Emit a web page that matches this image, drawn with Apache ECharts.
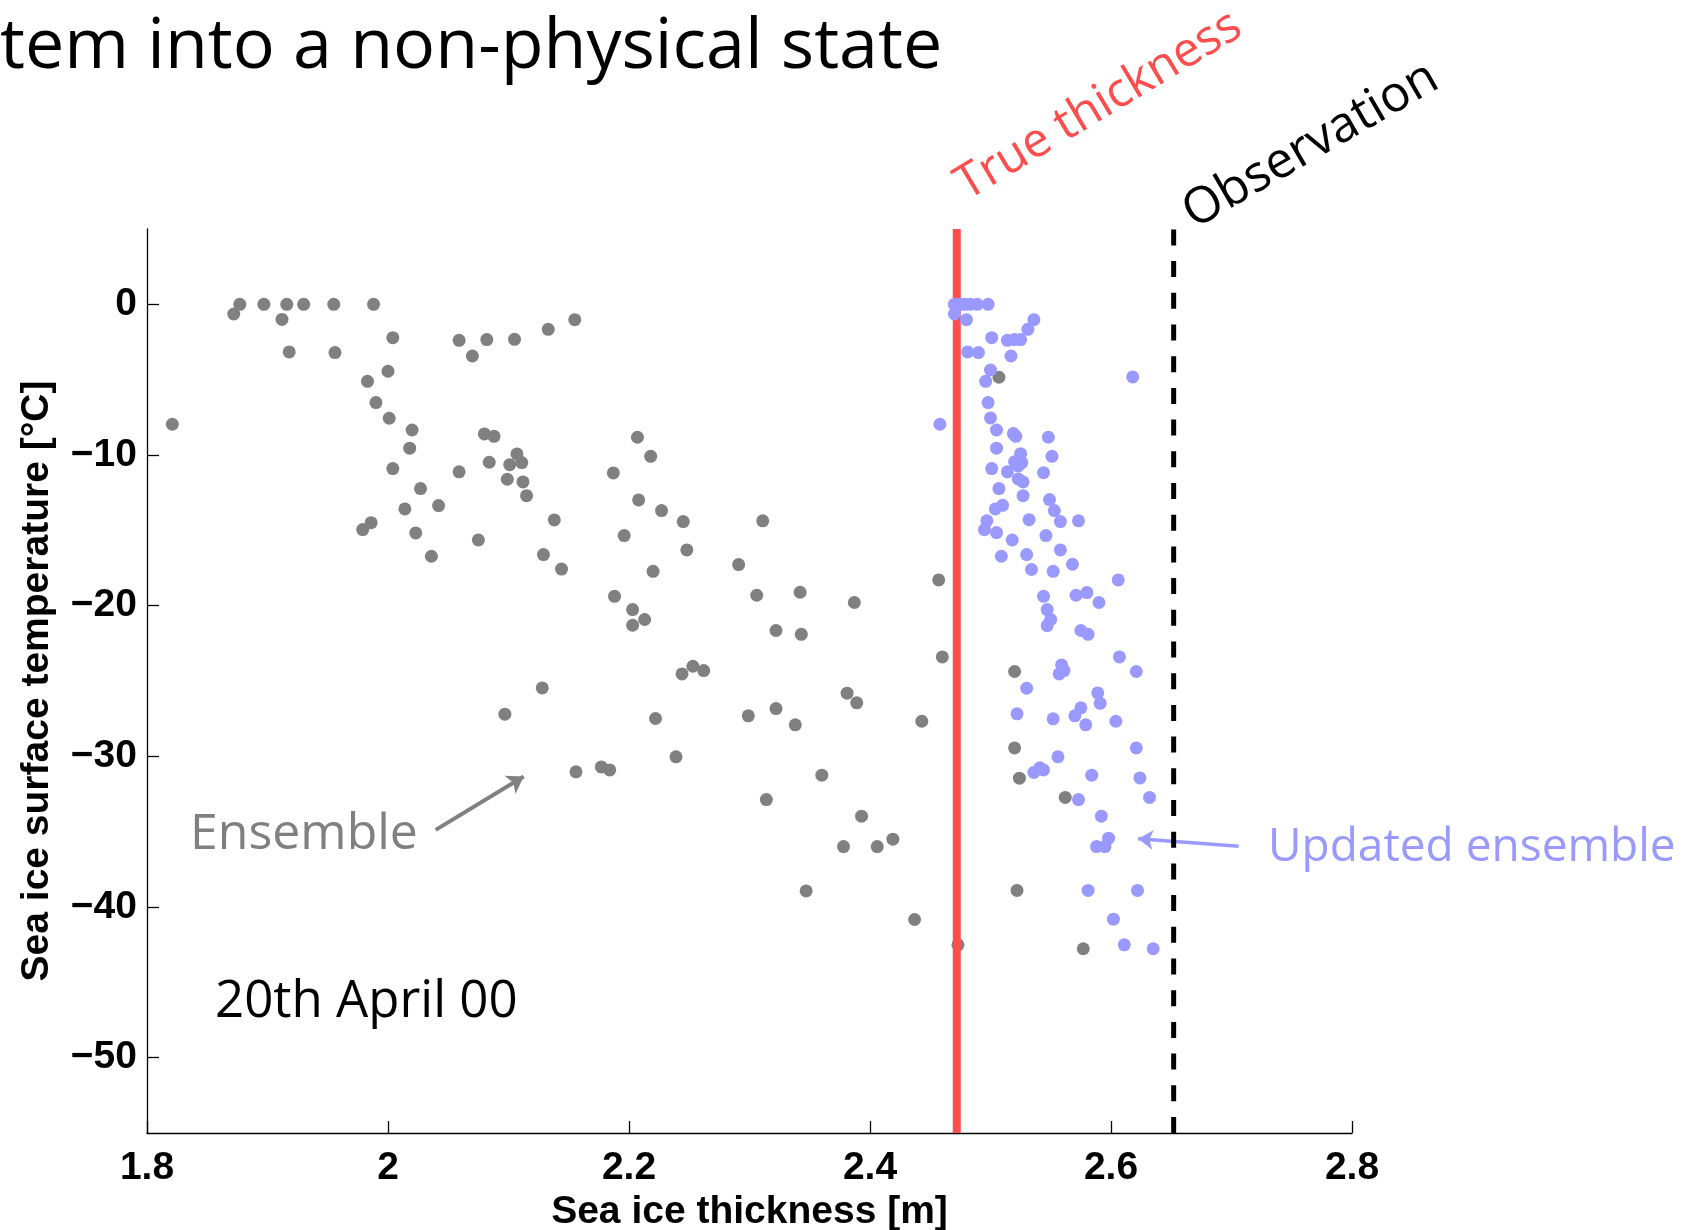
<!DOCTYPE html>
<html>
<head>
<meta charset="utf-8">
<script src="https://cdn.jsdelivr.net/npm/echarts@6/dist/echarts.min.js"></script>
<style>
html,body{margin:0;padding:0;background:#fff;overflow:hidden;}
#chart{width:1685px;height:1230px;}
</style>
</head>
<body>
<div id="chart"></div>
<script>
// ---- data ----
const ensembleX = [1.877,1.872,1.897,1.916,1.912,1.930,1.955,1.988,1.918,1.956,1.821,2.004,2.059,2.082,2.070,2.105,2.133,2.155,2.000,1.983,
  1.990,2.001,2.020,2.018,2.004,2.080,2.088,2.107,2.101,2.111,2.084,2.059,2.099,2.112,2.115,2.027,2.042,2.014,1.986,1.979,
  2.023,2.075,2.036,2.129,2.138,2.144,2.207,2.218,2.187,2.208,2.227,2.245,2.311,2.196,2.248,2.220,2.291,2.457,2.188,2.306,
  2.342,2.387,2.203,2.213,2.203,2.322,2.343,2.460,2.253,2.244,2.262,2.128,2.381,2.389,2.222,2.299,2.322,2.338,2.443,2.239,
  2.156,2.177,2.184,2.360,2.314,2.393,2.378,2.406,2.419,2.347,2.437,2.473,2.097,2.507,2.520,2.520,2.524,2.562,2.522,2.577];
const ensembleY = [0,-0.64,0,0,-1.0,0,0,0,-3.16,-3.2,-7.96,-2.21,-2.39,-2.34,-3.43,-2.32,-1.66,-1.02,-4.44,-5.11,
  -6.52,-7.56,-8.34,-9.55,-10.9,-8.6,-8.76,-9.93,-10.64,-10.5,-10.48,-11.12,-11.61,-11.79,-12.7,-12.23,-13.36,-13.58,-14.49,-14.95,
  -15.17,-15.64,-16.72,-16.61,-14.31,-17.57,-8.82,-10.09,-11.19,-12.98,-13.69,-14.42,-14.37,-15.35,-16.3,-17.72,-17.27,-18.29,-19.38,-19.31,
  -19.11,-19.79,-20.26,-20.92,-21.3,-21.65,-21.9,-23.4,-24.02,-24.53,-24.31,-25.46,-25.81,-26.45,-27.49,-27.31,-26.83,-27.91,-27.67,-30.03,
  -31.03,-30.7,-30.9,-31.25,-32.87,-33.97,-35.99,-35.99,-35.5,-38.93,-40.83,-42.51,-27.2,-4.84,-24.37,-29.44,-31.45,-32.73,-38.9,-42.77];

const updatedX = [2.470,2.475,2.479,2.483,2.489,2.498,2.470,2.480,2.536,2.531,2.501,2.514,2.520,2.525,2.517,2.481,2.490,2.500,2.496,2.618,
  2.458,2.498,2.500,2.505,2.519,2.521,2.548,2.505,2.551,2.525,2.520,2.526,2.523,2.501,2.514,2.544,2.523,2.527,2.507,2.527,
  2.549,2.553,2.558,2.573,2.510,2.504,2.497,2.495,2.505,2.532,2.546,2.518,2.558,2.509,2.530,2.568,2.534,2.552,2.606,2.544,
  2.571,2.580,2.590,2.547,2.550,2.547,2.575,2.581,2.607,2.559,2.561,2.557,2.621,2.530,2.589,2.591,2.575,2.570,2.579,2.522,
  2.552,2.604,2.621,2.556,2.536,2.541,2.544,2.584,2.624,2.573,2.632,2.592,2.598,2.588,2.595,2.581,2.622,2.602,2.611,2.635];
const updatedY = [0,0,0,0,0,0,-0.64,-1.02,-1.02,-1.66,-2.21,-2.39,-2.34,-2.34,-3.43,-3.16,-3.2,-4.36,-5.11,-4.82,
  -7.96,-6.52,-7.54,-8.34,-8.58,-8.76,-8.82,-9.55,-10.09,-9.91,-10.44,-10.5,-10.73,-10.9,-11.12,-11.17,-11.59,-11.79,-12.23,-12.7,
  -12.96,-13.69,-14.42,-14.37,-13.34,-13.58,-14.37,-14.95,-15.15,-14.29,-15.35,-15.64,-16.3,-16.72,-16.61,-17.25,-17.6,-17.72,-18.29,-19.38,
  -19.31,-19.13,-19.79,-20.26,-20.92,-21.32,-21.65,-21.9,-23.4,-23.93,-24.31,-24.53,-24.37,-25.48,-25.79,-26.48,-26.78,-27.31,-27.91,-27.18,
  -27.51,-27.67,-29.44,-30.03,-31.07,-30.76,-30.9,-31.25,-31.43,-32.87,-32.73,-33.97,-35.43,-35.99,-35.99,-38.9,-38.9,-40.81,-42.51,-42.77];

const trueThickness = 2.472;
const observation = 2.652;
const xTicks = [1.8, 2, 2.2, 2.4, 2.6, 2.8];
const yTicks = [-50, -40, -30, -20, -10, 0];
const xRange = [1.8, 2.8];
const yRange = [-55, 5];
// annotation arrows: [fromX, fromY, toX, toY]
const ensembleArrow = [2.0396, -34.88, 2.1126, -31.34];
const updatedArrow = [2.706, -35.97, 2.6225, -35.47];

// ---- chart ----
const zip = (xs, ys) => xs.map((x, i) => [x, ys[i]]);
const chart = echarts.init(document.getElementById('chart'), null, {renderer: 'canvas'});
const tickFont = {fontFamily: 'Liberation Sans', fontWeight: 'bold', fontSize: 39, color: '#000'};
const annFont = '"Open Sans", "Noto Sans", sans-serif';
const minusFmt = v => String(v).replace('-', '\u2212');

chart.setOption({
  animation: false,
  backgroundColor: '#fff',
  grid: {left: 147, right: 333, top: 229, bottom: 97, containLabel: false, outerBoundsMode: 'none'},
  xAxis: {
    type: 'value', min: xRange[0], max: xRange[1],
    name: 'Sea ice thickness [m]', nameLocation: 'middle', nameGap: 58,
    nameTextStyle: tickFont,
    splitLine: {show: false},
    axisLine: {onZero: false, lineStyle: {color: '#000', width: 1.3}},
    axisTick: {inside: true, length: 12, customValues: xTicks, lineStyle: {color: '#000', width: 1.3}},
    axisLabel: Object.assign({customValues: xTicks, margin: 16}, tickFont)
  },
  yAxis: {
    type: 'value', min: yRange[0], max: yRange[1],
    name: 'Sea ice surface temperature [°C]', nameLocation: 'middle', nameGap: 90, nameRotate: 90,
    nameTextStyle: tickFont,
    splitLine: {show: false},
    axisLine: {onZero: false, lineStyle: {color: '#000', width: 1.3}},
    axisTick: {inside: true, length: 12, customValues: yTicks, lineStyle: {color: '#000', width: 1.3}},
    axisLabel: Object.assign({customValues: yTicks, margin: 10, formatter: minusFmt}, tickFont)
  },
  series: [
    {
      type: 'scatter', name: 'Ensemble', data: zip(ensembleX, ensembleY),
      symbolSize: 13, itemStyle: {color: '#808080', opacity: 1}, z: 2,
      markLine: {
        silent: true, symbol: ['none', 'arrow'], symbolSize: 16, label: {show: false},
        lineStyle: {color: '#808080', width: 4, type: 'solid'},
        data: [[{coord: [ensembleArrow[0], ensembleArrow[1]]}, {coord: [ensembleArrow[2], ensembleArrow[3]]}]]
      }
    },
    {
      type: 'line', name: 'True thickness', data: [[trueThickness, yRange[0]], [trueThickness, yRange[1]]],
      symbol: 'none', lineStyle: {color: '#ff4d4d', width: 8}, z: 3
    },
    {
      type: 'scatter', name: 'Updated ensemble', data: zip(updatedX, updatedY),
      symbolSize: 13, itemStyle: {color: '#9999ff', opacity: 1}, z: 4,
      markLine: {
        silent: true, symbol: ['none', 'arrow'], symbolSize: 15, label: {show: false},
        lineStyle: {color: '#9999ff', width: 3.5, type: 'solid'},
        data: [[{coord: [updatedArrow[0], updatedArrow[1]]}, {coord: [updatedArrow[2], updatedArrow[3]]}]]
      }
    },
    {
      type: 'line', name: 'Observation', data: [[observation, yRange[0]], [observation, yRange[1]]],
      symbol: 'none', lineStyle: {color: '#000', width: 5, type: [16, 15.7]}, z: 5
    }
  ],
  graphic: [
    {type: 'text', x: 0, y: 48.5, style: {text: 'tem into a non-physical state', font: '70px ' + annFont, fill: '#000', align: 'left', verticalAlign: 'middle'}},
    {type: 'text', x: 190, y: 835, style: {text: 'Ensemble', font: '50px ' + annFont, fill: '#808080', align: 'left', verticalAlign: 'middle'}},
    {type: 'text', x: 215, y: 1002.5, style: {text: '20th April 00', font: '51px ' + annFont, fill: '#000', align: 'left', verticalAlign: 'middle'}},
    {type: 'text', x: 1268, y: 847.5, style: {text: 'Updated ensemble', font: '46px ' + annFont, fill: '#9999ff', align: 'left', verticalAlign: 'middle'}},
    {type: 'text', x: 960, y: 189, rotation: 31 * Math.PI / 180, style: {text: 'True thickness', font: '48px ' + annFont, fill: '#ff4d4d', align: 'left', verticalAlign: 'middle'}},
    {type: 'text', x: 1187, y: 217, rotation: 30 * Math.PI / 180, style: {text: 'Observation', font: '50px ' + annFont, fill: '#000', align: 'left', verticalAlign: 'middle'}}
  ]
});
</script>
</body>
</html>
